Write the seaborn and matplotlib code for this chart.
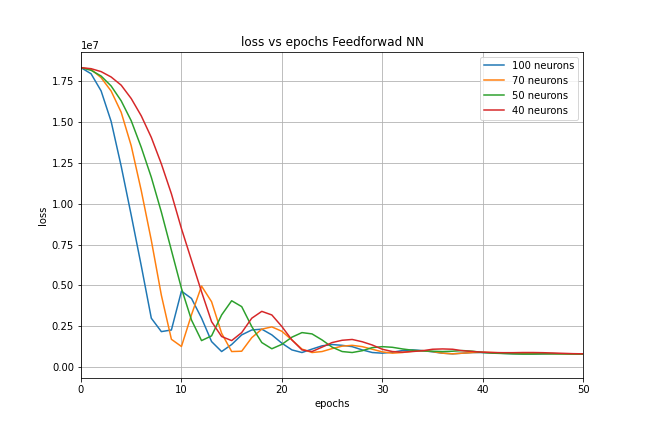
import numpy as np
import pandas as pd
import matplotlib
matplotlib.use("Agg")
import matplotlib.pyplot as plt
import seaborn as sns

# loss per epoch (units of 1e7)
epochs = list(range(51))
loss_100 = [1.833, 1.796, 1.691, 1.504, 1.23, 0.93, 0.62, 0.299, 0.217, 0.227,
            0.465, 0.42, 0.30, 0.156, 0.095, 0.138, 0.197, 0.227, 0.232, 0.197,
            0.146, 0.105, 0.089, 0.11, 0.13, 0.138, 0.133, 0.125, 0.105, 0.089,
            0.085, 0.091, 0.101, 0.105, 0.101, 0.093, 0.085, 0.081, 0.085, 0.089,
            0.089, 0.087, 0.084, 0.082, 0.080, 0.080, 0.081, 0.082, 0.081, 0.080,
            0.079]
loss_70 = [1.833, 1.823, 1.772, 1.69, 1.56, 1.355, 1.08, 0.776, 0.44, 0.17,
           0.126, 0.32, 0.496, 0.40, 0.207, 0.095, 0.097, 0.18, 0.232, 0.246,
           0.219, 0.166, 0.11, 0.089, 0.095, 0.113, 0.128, 0.133, 0.125, 0.109,
           0.093, 0.085, 0.089, 0.097, 0.101, 0.095, 0.085, 0.081, 0.085, 0.089,
           0.091, 0.089, 0.086, 0.084, 0.083, 0.083, 0.083, 0.082, 0.081, 0.080,
           0.079]
loss_50 = [1.833, 1.817, 1.782, 1.721, 1.63, 1.508, 1.345, 1.162, 0.949, 0.715,
           0.482, 0.288, 0.162, 0.191, 0.319, 0.406, 0.37, 0.248, 0.15, 0.112,
           0.139, 0.183, 0.211, 0.203, 0.166, 0.122, 0.095, 0.089, 0.10, 0.119,
           0.125, 0.121, 0.111, 0.103, 0.099, 0.097, 0.095, 0.097, 0.101, 0.097,
           0.089, 0.085, 0.083, 0.081, 0.080, 0.080, 0.081, 0.081, 0.081, 0.080,
           0.079]
loss_40 = [1.833, 1.827, 1.809, 1.776, 1.726, 1.644, 1.538, 1.406, 1.244, 1.061,
           0.848, 0.654, 0.461, 0.278, 0.187, 0.162, 0.211, 0.299, 0.341, 0.319,
           0.248, 0.166, 0.105, 0.095, 0.122, 0.15, 0.164, 0.169, 0.155, 0.135,
           0.109, 0.095, 0.091, 0.095, 0.10, 0.109, 0.111, 0.109, 0.10, 0.095,
           0.091, 0.089, 0.088, 0.088, 0.089, 0.089, 0.088, 0.086, 0.084, 0.082,
           0.081]
labels = ["100 neurons", "70 neurons", "50 neurons", "40 neurons"]

fig, ax = plt.subplots(figsize=(9, 6), dpi=72)
fig.subplots_adjust(bottom=0.125, top=0.88)

for lbl, vals in zip(labels, [loss_100, loss_70, loss_50, loss_40]):
    sns.lineplot(x=epochs, y=np.array(vals) * 1e7, label=lbl, ax=ax)

ax.set_xlim(0, 50)
ax.set_ylim(-0.067e7, 1.93e7)
ax.grid(True)
ax.set_xlabel("epochs")
ax.set_ylabel("loss")
ax.set_title("loss vs epochs Feedforwad NN")
ax.legend(loc="upper right")

fig.savefig("out.png", dpi=72)
